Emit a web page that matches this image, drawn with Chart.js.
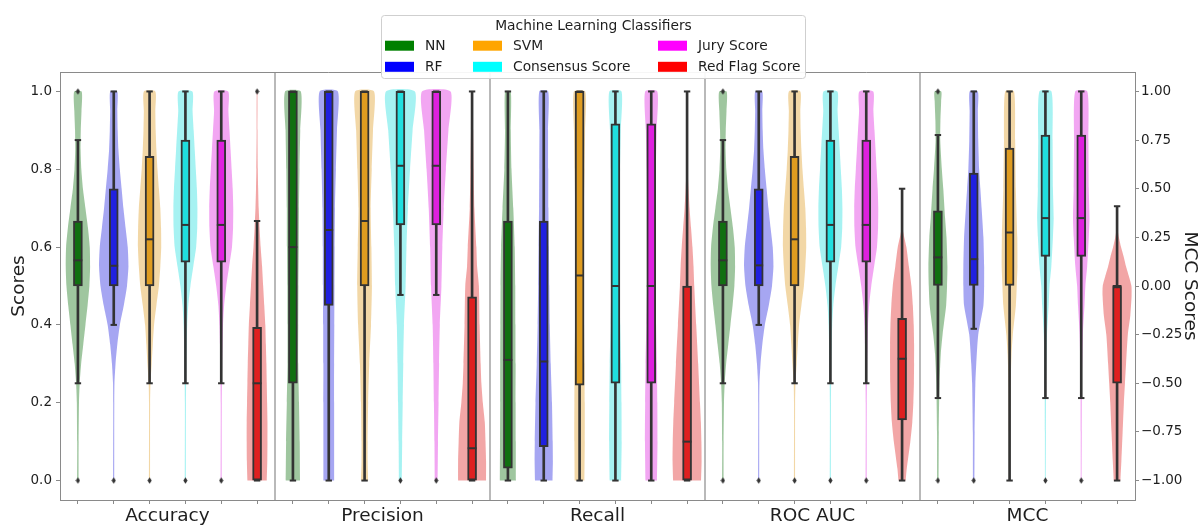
<!DOCTYPE html>
<html>
<head>
<meta charset="utf-8">
<title>Machine Learning Classifiers – score distributions</title>
<script src="https://cdn.jsdelivr.net/npm/chart.js@4.4.1/dist/chart.umd.min.js"></script>
<style>
  html, body { margin: 0; padding: 0; background: #ffffff; }
  canvas { display: block; }
</style>
</head>
<body>
<canvas id="scores" width="1201" height="527"></canvas>
<script>
// ---- categories and tick labels ----
const metrics = ['Accuracy', 'Precision', 'Recall', 'ROC AUC', 'MCC'];
const classifiers = ['NN', 'RF', 'SVM', 'Consensus Score', 'Jury Score', 'Red Flag Score'];
const scoreTicks = [0, 0.2, 0.4, 0.6, 0.8, 1.0];
const mccTicks = [-1, -0.75, -0.5, -0.25, 0, 0.25, 0.5, 0.75, 1];

// ---- box summaries: [low whisker, Q1, median, Q3, high whisker] per classifier ----
const accuracyBoxes = [
  [0.25, 0.5, 0.566, 0.667, 0.875],
  [0.40, 0.5, 0.552, 0.75, 1.0],
  [0.25, 0.5, 0.62, 0.833, 1.0],
  [0.25, 0.561, 0.657, 0.875, 1.0],
  [0.25, 0.561, 0.657, 0.875, 1.0],
  [0.0, 0.0, 0.25, 0.394, 0.667]
];
const precisionBoxes = [
  [0.0, 0.25, 0.60, 1.0, 1.0],
  [0.0, 0.45, 0.644, 1.0, 1.0],
  [0.0, 0.5, 0.667, 1.0, 1.0],
  [0.477, 0.657, 0.809, 1.0, 1.0],
  [0.477, 0.657, 0.809, 1.0, 1.0],
  [0.0, 0.0, 0.083, 0.472, 1.0]
];
const recallBoxes = [
  [0.0, 0.032, 0.31, 0.667, 1.0],
  [0.0, 0.087, 0.306, 0.667, 1.0],
  [0.0, 0.245, 0.527, 1.0, 1.0],
  [0.0, 0.25, 0.5, 0.917, 1.0],
  [0.0, 0.25, 0.5, 0.917, 1.0],
  [0.0, 0.0, 0.1, 0.5, 1.0]
];
const rocAucBoxes = [
  [0.25, 0.5, 0.566, 0.667, 0.875],
  [0.40, 0.5, 0.553, 0.75, 1.0],
  [0.25, 0.5, 0.62, 0.833, 1.0],
  [0.25, 0.561, 0.657, 0.875, 1.0],
  [0.25, 0.561, 0.657, 0.875, 1.0],
  [0.0, 0.156, 0.313, 0.417, 0.75]
];
const mccBoxes = [
  [-0.576, 0.0, 0.147, 0.387, 0.776],
  [-0.22, 0.0, 0.138, 0.58, 1.0],
  [-1.0, 0.0, 0.275, 0.709, 1.0],
  [-0.576, 0.152, 0.349, 0.776, 1.0],
  [-0.576, 0.152, 0.349, 0.776, 1.0],
  [-1.0, -0.5, 0.0, 0.0, 0.41]
];

// ---- outliers beyond the whiskers ----
const accuracyOutliers = [[0, 1], [0], [0], [0], [0], [1]];
const precisionOutliers = [[], [], [], [0], [0], []];
const recallOutliers = [[], [], [], [], [], []];
const rocAucOutliers = [[0, 1], [0], [0], [0], [0], []];
const mccOutliers = [[-1, 1], [-1], [], [-1], [-1], []];

// ---- violin outlines: [score, half width in category units] from bottom to top ----
const accuracyViolins = [
  [[0,0.02],[0.1,0.02],[0.2,0.03],[0.25,0.05],[0.3,0.09],[0.35,0.15],[0.4,0.21],[0.45,0.27],[0.5,0.32],[0.55,0.34],[0.6,0.33],[0.65,0.28],[0.7,0.21],[0.75,0.14],[0.8,0.095],[0.85,0.075],[0.9,0.08],[0.95,0.1],[1,0.105]],
  [[0,0.015],[0.2,0.015],[0.25,0.02],[0.3,0.05],[0.35,0.1],[0.4,0.17],[0.45,0.28],[0.5,0.37],[0.55,0.41],[0.6,0.39],[0.65,0.33],[0.7,0.27],[0.75,0.22],[0.8,0.17],[0.85,0.13],[0.9,0.11],[0.95,0.1],[1,0.1]],
  [[0,0.015],[0.2,0.015],[0.25,0.025],[0.3,0.06],[0.35,0.09],[0.4,0.125],[0.45,0.19],[0.5,0.26],[0.55,0.3],[0.6,0.325],[0.65,0.32],[0.7,0.3],[0.75,0.26],[0.8,0.22],[0.85,0.19],[0.9,0.17],[0.95,0.16],[1,0.16]],
  [[0,0.015],[0.2,0.015],[0.25,0.02],[0.3,0.025],[0.35,0.035],[0.4,0.05],[0.45,0.08],[0.5,0.14],[0.55,0.22],[0.6,0.3],[0.65,0.33],[0.7,0.335],[0.75,0.32],[0.8,0.29],[0.85,0.26],[0.9,0.23],[0.95,0.2],[1,0.195]],
  [[0,0.015],[0.2,0.015],[0.25,0.02],[0.3,0.025],[0.35,0.035],[0.4,0.05],[0.45,0.08],[0.5,0.14],[0.55,0.22],[0.6,0.3],[0.65,0.33],[0.7,0.335],[0.75,0.32],[0.8,0.29],[0.85,0.26],[0.9,0.23],[0.95,0.2],[1,0.195]],
  [[0,0.27],[0.05,0.285],[0.1,0.29],[0.15,0.29],[0.2,0.28],[0.25,0.27],[0.3,0.26],[0.35,0.245],[0.4,0.23],[0.45,0.2],[0.5,0.17],[0.55,0.14],[0.6,0.1],[0.65,0.07],[0.7,0.045],[0.75,0.03],[0.8,0.02],[0.9,0.012],[1,0.01]]
];
const precisionViolins = [
  [[0,0.2],[0.1,0.19],[0.2,0.17],[0.3,0.15],[0.4,0.15],[0.5,0.155],[0.6,0.165],[0.7,0.17],[0.8,0.185],[0.9,0.205],[1,0.22]],
  [[0,0.15],[0.1,0.15],[0.2,0.15],[0.3,0.15],[0.4,0.155],[0.5,0.16],[0.6,0.165],[0.7,0.175],[0.8,0.2],[0.9,0.23],[1,0.255]],
  [[0,0.1],[0.05,0.085],[0.1,0.085],[0.2,0.1],[0.3,0.13],[0.4,0.18],[0.5,0.205],[0.6,0.19],[0.7,0.17],[0.8,0.2],[0.9,0.235],[1,0.265]],
  [[0,0.04],[0.1,0.05],[0.2,0.065],[0.3,0.08],[0.4,0.1],[0.5,0.145],[0.6,0.17],[0.7,0.21],[0.8,0.27],[0.9,0.34],[1,0.405]],
  [[0,0.04],[0.1,0.05],[0.2,0.065],[0.3,0.08],[0.4,0.1],[0.5,0.145],[0.6,0.17],[0.7,0.21],[0.8,0.27],[0.9,0.34],[1,0.4]],
  [[0,0.39],[0.05,0.39],[0.1,0.375],[0.15,0.355],[0.2,0.3],[0.25,0.26],[0.3,0.24],[0.4,0.21],[0.5,0.19],[0.55,0.14],[0.6,0.12],[0.7,0.065],[0.8,0.045],[0.9,0.03],[1,0.02]]
];
const recallViolins = [
  [[0,0.225],[0.1,0.22],[0.2,0.215],[0.3,0.215],[0.4,0.21],[0.5,0.205],[0.6,0.19],[0.7,0.15],[0.8,0.1],[0.9,0.08],[1,0.08]],
  [[0,0.245],[0.05,0.255],[0.1,0.25],[0.2,0.23],[0.3,0.195],[0.4,0.17],[0.5,0.155],[0.6,0.145],[0.7,0.13],[0.8,0.125],[0.9,0.12],[1,0.125]],
  [[0,0.135],[0.1,0.145],[0.2,0.145],[0.3,0.14],[0.4,0.125],[0.5,0.115],[0.6,0.11],[0.7,0.12],[0.8,0.14],[0.9,0.155],[1,0.16]],
  [[0,0.16],[0.1,0.175],[0.2,0.17],[0.3,0.16],[0.4,0.135],[0.5,0.115],[0.6,0.105],[0.7,0.115],[0.8,0.13],[0.9,0.15],[1,0.17]],
  [[0,0.16],[0.1,0.175],[0.2,0.17],[0.3,0.16],[0.4,0.135],[0.5,0.115],[0.6,0.105],[0.7,0.115],[0.8,0.13],[0.9,0.15],[1,0.17]],
  [[0,0.39],[0.05,0.405],[0.1,0.4],[0.15,0.385],[0.2,0.36],[0.3,0.31],[0.4,0.255],[0.5,0.2],[0.55,0.18],[0.6,0.15],[0.65,0.11],[0.7,0.07],[0.75,0.04],[0.8,0.015],[0.83,0.003]]
];
const rocAucViolins = [
  [[0,0.02],[0.1,0.02],[0.2,0.03],[0.25,0.05],[0.3,0.09],[0.35,0.15],[0.4,0.21],[0.45,0.27],[0.5,0.32],[0.55,0.34],[0.6,0.33],[0.65,0.28],[0.7,0.21],[0.75,0.14],[0.8,0.095],[0.85,0.075],[0.9,0.08],[0.95,0.1],[1,0.105]],
  [[0,0.015],[0.2,0.015],[0.25,0.02],[0.3,0.05],[0.35,0.1],[0.4,0.17],[0.45,0.28],[0.5,0.37],[0.55,0.41],[0.6,0.39],[0.65,0.33],[0.7,0.27],[0.75,0.22],[0.8,0.17],[0.85,0.13],[0.9,0.11],[0.95,0.1],[1,0.1]],
  [[0,0.015],[0.2,0.015],[0.25,0.025],[0.3,0.06],[0.35,0.09],[0.4,0.125],[0.45,0.19],[0.5,0.26],[0.55,0.3],[0.6,0.325],[0.65,0.32],[0.7,0.3],[0.75,0.26],[0.8,0.22],[0.85,0.19],[0.9,0.17],[0.95,0.16],[1,0.16]],
  [[0,0.015],[0.2,0.015],[0.25,0.02],[0.3,0.025],[0.35,0.035],[0.4,0.05],[0.45,0.08],[0.5,0.14],[0.55,0.22],[0.6,0.3],[0.65,0.33],[0.7,0.335],[0.75,0.32],[0.8,0.29],[0.85,0.26],[0.9,0.23],[0.95,0.2],[1,0.195]],
  [[0,0.015],[0.2,0.015],[0.25,0.02],[0.3,0.025],[0.35,0.035],[0.4,0.05],[0.45,0.08],[0.5,0.14],[0.55,0.22],[0.6,0.3],[0.65,0.33],[0.7,0.335],[0.75,0.32],[0.8,0.29],[0.85,0.26],[0.9,0.23],[0.95,0.2],[1,0.195]],
  [[0,0.1],[0.03,0.13],[0.1,0.23],[0.15,0.285],[0.2,0.315],[0.25,0.33],[0.3,0.335],[0.35,0.335],[0.4,0.325],[0.45,0.3],[0.5,0.26],[0.55,0.19],[0.6,0.12],[0.63,0.05],[0.65,0.005]]
];
const mccViolins = [
  [[-1,0.02],[-0.75,0.025],[-0.5,0.045],[-0.35,0.08],[-0.25,0.13],[-0.1,0.23],[0,0.255],[0.1,0.265],[0.25,0.24],[0.35,0.2],[0.5,0.15],[0.6,0.11],[0.75,0.065],[0.85,0.07],[0.95,0.09],[1,0.093]],
  [[-1,0.02],[-0.75,0.025],[-0.5,0.045],[-0.4,0.07],[-0.25,0.125],[-0.1,0.27],[0,0.29],[0.1,0.29],[0.25,0.27],[0.4,0.22],[0.5,0.185],[0.6,0.15],[0.75,0.125],[0.9,0.115],[1,0.115]],
  [[-1,0.015],[-0.75,0.02],[-0.5,0.03],[-0.35,0.055],[-0.25,0.09],[-0.1,0.175],[0,0.2],[0.1,0.22],[0.25,0.215],[0.5,0.175],[0.75,0.155],[1,0.125]],
  [[-1,0.012],[-0.75,0.015],[-0.5,0.02],[-0.25,0.045],[-0.1,0.09],[0,0.115],[0.1,0.165],[0.25,0.21],[0.35,0.23],[0.5,0.21],[0.75,0.2],[1,0.17]],
  [[-1,0.012],[-0.75,0.015],[-0.5,0.02],[-0.25,0.045],[-0.1,0.09],[0,0.115],[0.1,0.165],[0.25,0.21],[0.35,0.23],[0.5,0.21],[0.75,0.2],[1,0.17]],
  [[-1,0.093],[-0.9,0.12],[-0.75,0.155],[-0.6,0.19],[-0.5,0.22],[-0.4,0.25],[-0.25,0.3],[-0.15,0.37],[-0.05,0.405],[0,0.4],[0.05,0.33],[0.1,0.25],[0.15,0.185],[0.2,0.11],[0.25,0.05],[0.3,0.005]]
];

// ---- colours ----
const legendColors = ['#008000', '#0000ff', '#ffa500', '#00ffff', '#ff00ff', '#ff0000'];
const boxColors = ['#107010', '#2020df', '#df9c20', '#20dfdf', '#df20df', '#df2020'];
const violinColors = ['rgba(16,112,16,0.4)', 'rgba(32,32,223,0.4)', 'rgba(223,156,32,0.4)',
                      'rgba(32,223,223,0.4)', 'rgba(223,32,223,0.4)', 'rgba(223,32,32,0.4)'];
const lineColor = '#333333';
const spineColor = '#8a8a8a';
const textColor = '#1e1e1e';
const fontFamily = "'DejaVu Sans', 'Liberation Sans', sans-serif";

const boxSets = [accuracyBoxes, precisionBoxes, recallBoxes, rocAucBoxes, mccBoxes];
const outlierSets = [accuracyOutliers, precisionOutliers, recallOutliers, rocAucOutliers, mccOutliers];
const violinSets = [accuracyViolins, precisionViolins, recallViolins, rocAucViolins, mccViolins];

const perGroup = classifiers.length;
const slotCount = metrics.length * perGroup;
const slotOf = (m, c) => m * perGroup + c;
const axisOf = m => metrics[m] === 'MCC' ? 'y1' : 'y';
const scoreRange = [-0.05, 1.05];
const mccRange = [-1.1, 1.1];

// thin diamond used for outlier markers
const diamond = document.createElement('canvas');
diamond.width = 5; diamond.height = 7;
(() => {
  const g = diamond.getContext('2d');
  g.fillStyle = lineColor;
  g.beginPath();
  g.moveTo(2.5, 0.3); g.lineTo(4.6, 3.5); g.lineTo(2.5, 6.7); g.lineTo(0.4, 3.5);
  g.closePath(); g.fill();
})();

const datasets = [];

// group separators between metrics
for (let m = 1; m < metrics.length; m++) {
  const xv = slotOf(m, 0) - 0.5;
  datasets.push({
    type: 'line', data: [{ x: xv, y: scoreRange[0] }, { x: xv, y: scoreRange[1] }],
    borderColor: spineColor, borderWidth: 1.2, pointRadius: 0, fill: false, order: 7
  });
}

// violins
violinSets.forEach((profiles, m) => {
  profiles.forEach((profile, c) => {
    const pos = slotOf(m, c);
    const left = profile.map(([v, w]) => ({ x: pos - w, y: v }));
    const right = profile.slice().reverse().map(([v, w]) => ({ x: pos + w, y: v }));
    datasets.push({
      type: 'line', yAxisID: axisOf(m), data: left.concat(right),
      fill: 'shape', backgroundColor: violinColors[c],
      borderColor: 'rgba(0,0,0,0)', borderWidth: 0, pointRadius: 0,
      tension: 0.2, order: 6
    });
  });
});

boxSets.forEach((boxes, m) => {
  const yAxisID = axisOf(m);
  // whiskers
  datasets.push({
    type: 'bar', yAxisID, grouped: false, barThickness: 2,
    data: boxes.map((b, c) => ({ x: slotOf(m, c), y: [b[0], b[4]] })),
    backgroundColor: lineColor, borderWidth: 0, order: 5
  });
  // interquartile boxes
  datasets.push({
    type: 'bar', yAxisID, grouped: false, barThickness: 9,
    data: boxes.map((b, c) => ({ x: slotOf(m, c), y: [b[1], b[3]] })),
    backgroundColor: boxColors, borderColor: lineColor, borderWidth: 2,
    borderSkipped: false, order: 4
  });
  // medians
  datasets.push({
    type: 'line', yAxisID, showLine: false,
    data: boxes.map((b, c) => ({ x: slotOf(m, c), y: b[2] })),
    pointStyle: 'line', pointRadius: 4.4, pointBorderWidth: 2,
    pointBorderColor: lineColor, order: 3
  });
  // whisker caps
  const caps = [];
  boxes.forEach((b, c) => { caps.push({ x: slotOf(m, c), y: b[0] }, { x: slotOf(m, c), y: b[4] }); });
  datasets.push({
    type: 'line', yAxisID, showLine: false, data: caps,
    pointStyle: 'line', pointRadius: 3.2, pointBorderWidth: 2,
    pointBorderColor: lineColor, order: 2
  });
  // outliers
  const pts = [];
  outlierSets[m].forEach((list, c) => list.forEach(v => pts.push({ x: slotOf(m, c), y: v })));
  datasets.push({
    type: 'line', yAxisID, showLine: false, data: pts,
    pointStyle: diamond, pointRadius: 3, order: 1
  });
});

// top spine and the classifier legend
const frameAndLegend = {
  id: 'frameAndLegend',
  beforeDatasetsDraw(chart) {
    const { ctx, chartArea: a } = chart;
    ctx.save();
    ctx.strokeStyle = spineColor;
    ctx.lineWidth = 1;
    ctx.beginPath();
    ctx.moveTo(a.left, Math.round(a.top) + 0.5);
    ctx.lineTo(a.right, Math.round(a.top) + 0.5);
    ctx.stroke();
    ctx.restore();
  },
  afterDraw(chart) {
    const { ctx } = chart;
    const box = { x: 381.5, y: 15.5, w: 424, h: 63 };
    ctx.save();
    ctx.fillStyle = 'rgba(255,255,255,0.92)';
    ctx.strokeStyle = '#cfcfcf';
    ctx.lineWidth = 1;
    ctx.beginPath();
    ctx.roundRect(box.x, box.y, box.w, box.h, 3);
    ctx.fill();
    ctx.stroke();

    ctx.fillStyle = textColor;
    ctx.font = `13.8px ${fontFamily}`;
    ctx.textBaseline = 'middle';
    ctx.textAlign = 'center';
    ctx.fillText('Machine Learning Classifiers', box.x + box.w / 2, 26);

    const cols = [385, 473, 658];
    const rows = [45.7, 66.8];
    ctx.textAlign = 'left';
    classifiers.forEach((name, i) => {
      const col = Math.floor(i / 2), row = i % 2;
      const px = cols[col], py = rows[row];
      ctx.fillStyle = legendColors[i];
      ctx.fillRect(px, py - 5, 29, 10);
      ctx.fillStyle = textColor;
      ctx.fillText(name, px + 40, py + 0.5);
    });
    ctx.restore();
  }
};

const slotTicks = Array.from({ length: slotCount }, (_, i) => i);

Chart.defaults.font.family = fontFamily;
Chart.defaults.color = textColor;

new Chart(document.getElementById('scores'), {
  type: 'bar',
  data: { datasets },
  options: {
    responsive: false,
    animation: false,
    events: [],
    layout: { padding: { top: 72, left: 0, right: 0, bottom: 0 } },
    plugins: { legend: { display: false }, tooltip: { enabled: false } },
    scales: {
      x: {
        type: 'linear', min: -0.5, max: slotCount - 0.5, offset: false,
        afterBuildTicks: s => { s.ticks = slotTicks.map(v => ({ value: v })); },
        afterFit: s => { s.height = 27; },
        ticks: {
          autoSkip: false, maxRotation: 0, minRotation: 0,
          callback: v => (v % perGroup === 2 ? metrics[Math.floor(v / perGroup)] : ''),
          labelOffset: 17.9, padding: 1,
          font: { size: 18.5 }, color: textColor
        },
        grid: { drawOnChartArea: false, offset: false, tickLength: 4, color: spineColor },
        border: { color: spineColor, width: 1 }
      },
      y: {
        type: 'linear', position: 'left', min: scoreRange[0], max: scoreRange[1],
        afterBuildTicks: s => { s.ticks = scoreTicks.map(v => ({ value: v })); },
        afterFit: s => { s.width = 60; },
        ticks: { callback: v => v.toFixed(1), padding: 4, font: { size: 13.5 }, color: textColor },
        grid: { drawOnChartArea: false, tickLength: 4, color: spineColor },
        border: { color: spineColor, width: 1 },
        title: { display: true, text: 'Scores', font: { size: 18.5 }, color: textColor, padding: { top: 8, bottom: 0 } }
      },
      y1: {
        type: 'linear', position: 'right', min: mccRange[0], max: mccRange[1],
        afterBuildTicks: s => { s.ticks = mccTicks.map(v => ({ value: v })); },
        afterFit: s => { s.width = 66; },
        ticks: { callback: v => v.toFixed(2).replace('-', '\u2212'), padding: 2, font: { size: 13.5 }, color: textColor },
        grid: { drawOnChartArea: false, tickLength: 4, color: spineColor },
        border: { color: spineColor, width: 1 },
        title: { display: true, text: 'MCC Scores', font: { size: 18.5 }, color: textColor, padding: { top: 0, bottom: 0 } }
      }
    }
  },
  plugins: [frameAndLegend]
});
</script>
</body>
</html>
